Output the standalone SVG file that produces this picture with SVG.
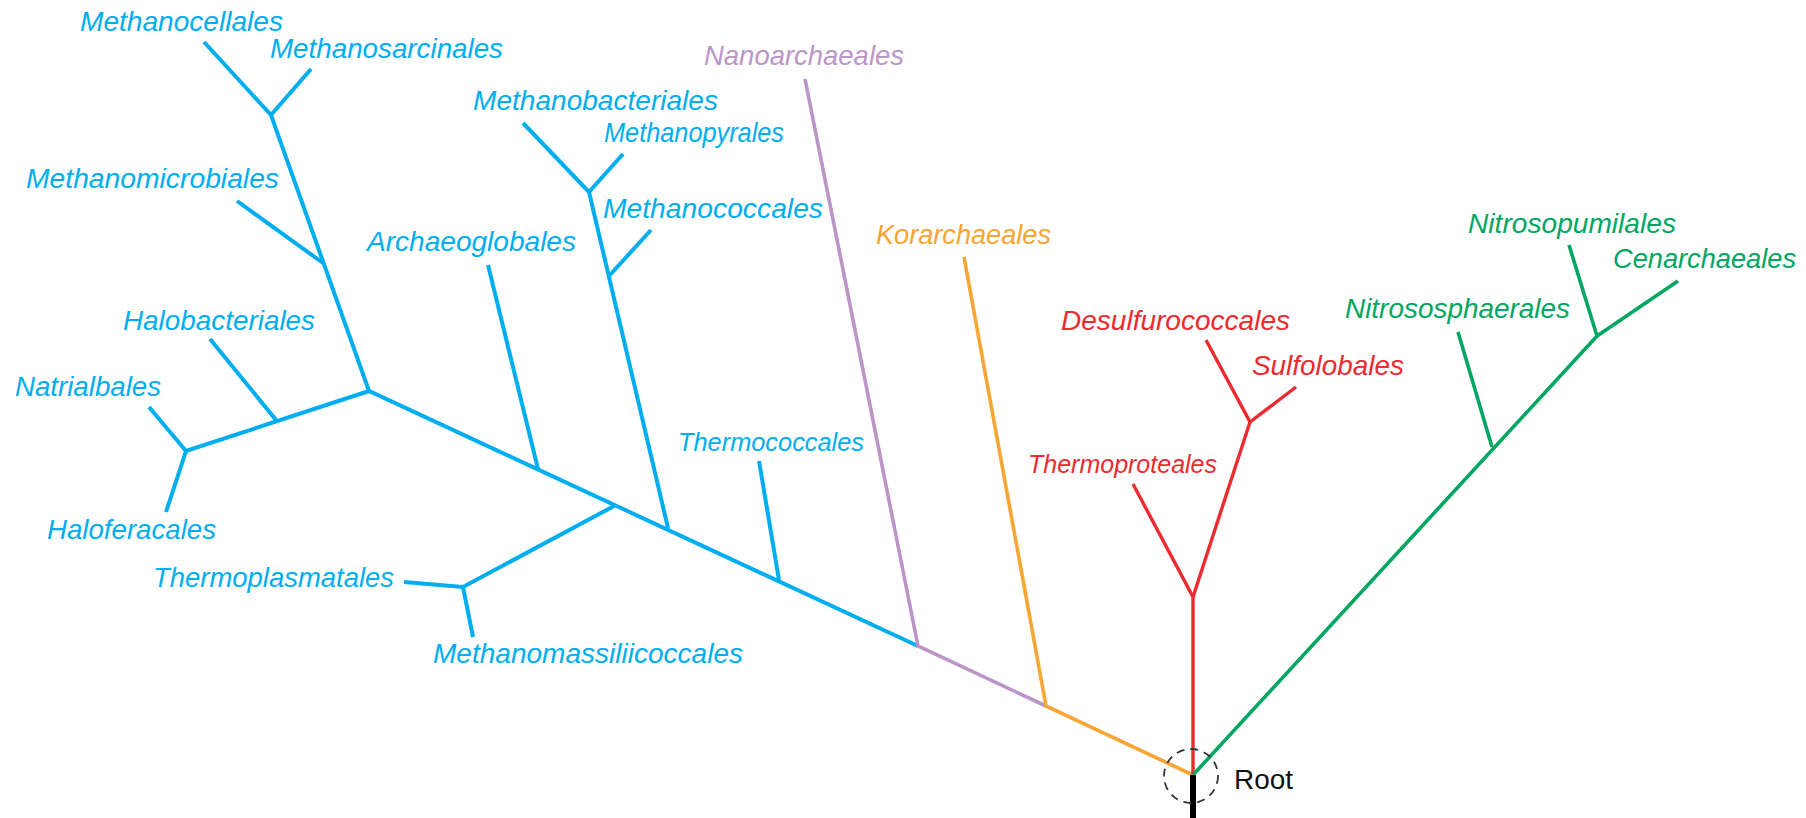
<svg xmlns="http://www.w3.org/2000/svg" width="1806" height="818" viewBox="0 0 1806 818">
<style>
.lbl{font-family:"Liberation Sans",Arial,sans-serif;font-style:italic;font-size:27.5px}
.sm{font-size:25.5px}
.b{fill:#00AEEF}.p{fill:#BC95C8}.o{fill:#F7A533}.r{fill:#EE2A2F}.g{fill:#00A661}
.e{fill:none;stroke-linecap:butt;stroke-linejoin:miter}
.eb{stroke:#00AEEF;stroke-width:4}
.ep{stroke:#BC95C8;stroke-width:3.6}
.eo{stroke:#F7A533;stroke-width:3.6}
.er{stroke:#EE2A2F;stroke-width:3.4}
.eg{stroke:#00A661;stroke-width:3.6}
</style>
<rect width="1806" height="818" fill="#fff"/>
<g id="connectors">
  <polyline class="e eb" points="918,646 369,391 186,451 149,407"/>
  <polyline class="e eb" points="276,420 210,339"/>
  <polyline class="e eb" points="186,451 166,512"/>
  <polyline class="e eb" points="369,391 271,115 204,42"/>
  <polyline class="e eb" points="271,115 311,69"/>
  <polyline class="e eb" points="323,263 237,201"/>
  <polyline class="e eb" points="538,469 488,265"/>
  <polyline class="e eb" points="668,528 589,192 523,123"/>
  <polyline class="e eb" points="589,192 623,154"/>
  <polyline class="e eb" points="609,276 651,230"/>
  <polyline class="e eb" points="779,580 759,461"/>
  <polyline class="e eb" points="614,506 463,587 404,582"/>
  <polyline class="e eb" points="463,587 473,637"/>
  <polyline class="e ep" points="1046,706 918,646 805,79"/>
  <polyline class="e eo" points="1193,775 1046,706 964,257"/>
  <polyline class="e er" points="1193,775 1193,597 1133,484"/>
  <polyline class="e er" points="1193,597 1250,422 1206,340"/>
  <polyline class="e er" points="1250,422 1296,387"/>
  <polyline class="e eg" points="1193,775 1597,336 1569,245"/>
  <polyline class="e eg" points="1597,336 1678,281"/>
  <polyline class="e eg" points="1492,447 1458,332"/>
  <line x1="1193" y1="775" x2="1193" y2="818" stroke="#000" stroke-width="6"/>
</g>
<g id="root">
  <circle cx="1191" cy="776" r="27" fill="none" stroke="#333" stroke-width="1.8" stroke-dasharray="8 6"/>
  <text x="1234" y="789" font-family="'Liberation Sans',Arial,sans-serif" font-size="27" fill="#111" textLength="59" lengthAdjust="spacingAndGlyphs">Root</text>
</g>
<g id="Methanocellales"><text class="lbl b" x="80" y="31" textLength="203" lengthAdjust="spacingAndGlyphs">Methanocellales</text></g>
<g id="Methanosarcinales"><text class="lbl b" x="270" y="58" textLength="233" lengthAdjust="spacingAndGlyphs">Methanosarcinales</text></g>
<g id="Methanomicrobiales"><text class="lbl b" x="26" y="188" textLength="253" lengthAdjust="spacingAndGlyphs">Methanomicrobiales</text></g>
<g id="Halobacteriales"><text class="lbl b" x="123" y="330" textLength="192" lengthAdjust="spacingAndGlyphs">Halobacteriales</text></g>
<g id="Natrialbales"><text class="lbl b" x="15" y="396" textLength="146" lengthAdjust="spacingAndGlyphs">Natrialbales</text></g>
<g id="Haloferacales"><text class="lbl b" x="47" y="539" textLength="169" lengthAdjust="spacingAndGlyphs">Haloferacales</text></g>
<g id="Archaeoglobales"><text class="lbl b" x="367" y="251" textLength="209" lengthAdjust="spacingAndGlyphs">Archaeoglobales</text></g>
<g id="Methanobacteriales"><text class="lbl b" x="473" y="110" textLength="245" lengthAdjust="spacingAndGlyphs">Methanobacteriales</text></g>
<g id="Methanopyrales"><text class="lbl b" x="604" y="142" textLength="180" lengthAdjust="spacingAndGlyphs">Methanopyrales</text></g>
<g id="Methanococcales"><text class="lbl b" x="603" y="218" textLength="220" lengthAdjust="spacingAndGlyphs">Methanococcales</text></g>
<g id="Thermococcales"><text class="lbl sm b" x="678" y="451" textLength="186" lengthAdjust="spacingAndGlyphs">Thermococcales</text></g>
<g id="Thermoplasmatales"><text class="lbl b" x="153" y="587" textLength="241" lengthAdjust="spacingAndGlyphs">Thermoplasmatales</text></g>
<g id="Methanomassiliicoccales"><text class="lbl b" x="433" y="663" textLength="310" lengthAdjust="spacingAndGlyphs">Methanomassiliicoccales</text></g>
<g id="Nanoarchaeales"><text class="lbl p" x="704" y="65" textLength="200" lengthAdjust="spacingAndGlyphs">Nanoarchaeales</text></g>
<g id="Korarchaeales"><text class="lbl o" x="876" y="244" textLength="175" lengthAdjust="spacingAndGlyphs">Korarchaeales</text></g>
<g id="Desulfurococcales"><text class="lbl r" x="1061" y="330" textLength="229" lengthAdjust="spacingAndGlyphs">Desulfurococcales</text></g>
<g id="Sulfolobales"><text class="lbl r" x="1252" y="375" textLength="152" lengthAdjust="spacingAndGlyphs">Sulfolobales</text></g>
<g id="Thermoproteales"><text class="lbl sm r" x="1028" y="473" textLength="189" lengthAdjust="spacingAndGlyphs">Thermoproteales</text></g>
<g id="Nitrosopumilales"><text class="lbl g" x="1468" y="233" textLength="208" lengthAdjust="spacingAndGlyphs">Nitrosopumilales</text></g>
<g id="Cenarchaeales"><text class="lbl g" x="1613" y="268" textLength="183" lengthAdjust="spacingAndGlyphs">Cenarchaeales</text></g>
<g id="Nitrososphaerales"><text class="lbl g" x="1345" y="318" textLength="225" lengthAdjust="spacingAndGlyphs">Nitrososphaerales</text></g>
</svg>
